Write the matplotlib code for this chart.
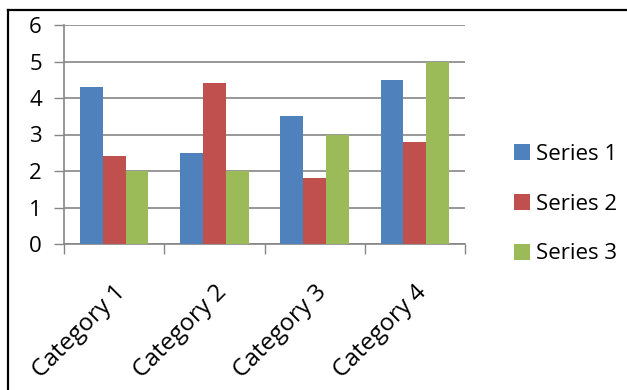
import matplotlib
matplotlib.use("Agg")
import matplotlib.pyplot as plt
from matplotlib.lines import Line2D
import numpy as np

categories = ["Category 1", "Category 2", "Category 3", "Category 4"]
series_names = ["Series 1", "Series 2", "Series 3"]
series1 = [4.3, 2.5, 3.5, 4.5]
series2 = [2.4, 4.4, 1.8, 2.8]
series3 = [2, 2, 3, 5]
colors = ["#4F81BD", "#C0504D", "#9BBB59"]

plt.rcParams['font.family'] = ['Open Sans', 'DejaVu Sans']

fig = plt.figure(figsize=(6.27, 3.90), dpi=100)
ax = fig.add_axes([64 / 627, (390 - 244) / 390, (465 - 64) / 627, (244 - 25) / 390])

x = np.arange(len(categories))
w = 0.227
for i, (vals, name) in enumerate(zip([series1, series2, series3], series_names)):
    ax.bar(x + (i - 1) * w, vals, width=w, color=colors[i], label=name, zorder=3)

ax.set_xlim(-0.5, len(categories) - 0.5)
ax.set_ylim(0, 6)
ax.set_yticks(range(0, 7))
ax.tick_params(axis='y', length=7, width=1, color='#868686', labelsize=16, pad=9)
ax.yaxis.grid(True, color='#868686', linewidth=1.2, zorder=0)

# category ticks sit between the groups
ax.set_xticks(np.arange(-0.5, len(categories) + 0.5, 1))
ax.set_xticklabels([])
ax.tick_params(axis='x', length=7, width=1, color='#868686')
ax.set_xticks(x, minor=True)
ax.set_xticklabels(categories, minor=True, rotation=45, ha='right',
                   rotation_mode='anchor', fontsize=17.5)
ax.tick_params(axis='x', which='minor', length=0, pad=26)

for s in ['top', 'right']:
    ax.spines[s].set_visible(False)
for s in ['left', 'bottom']:
    ax.spines[s].set_color('#868686')
    ax.spines[s].set_linewidth(1.2)

fig.legend(loc='center left', bbox_to_anchor=(503 / 627, (390 - 204) / 390),
           frameon=False, fontsize=16, handlelength=0.7, handleheight=0.75,
           handletextpad=0.3, labelspacing=1.3, borderpad=0)

# outer frame (only top and left edges are visible in the crop)
fig.add_artist(Line2D([8 / 627, 8 / 627], [0, 1 - 10 / 390], transform=fig.transFigure,
                      color='black', linewidth=1.6))
fig.add_artist(Line2D([8 / 627, 1], [1 - 10 / 390, 1 - 10 / 390], transform=fig.transFigure,
                      color='black', linewidth=1.6))

fig.savefig("out.png", dpi=100)
